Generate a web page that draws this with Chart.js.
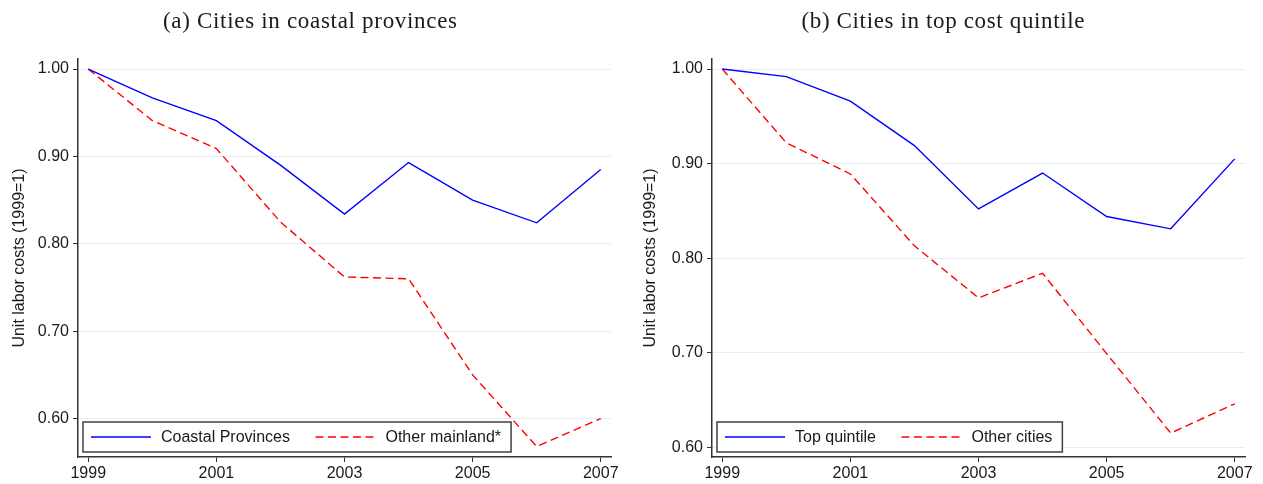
<!DOCTYPE html>
<html><head><meta charset="utf-8">
<script src="https://cdn.jsdelivr.net/npm/chart.js@4"></script>
<style>
html,body{margin:0;padding:0;background:#fff;overflow:hidden}
#wrap{position:relative;width:1263px;height:484px;background:#fff}
canvas{position:absolute;top:0}
</style></head><body>
<div id="wrap">
<canvas id="c1" width="631" height="484" style="left:0"></canvas>
<canvas id="c2" width="632" height="484" style="left:631px"></canvas>
</div>
<script>
// ---- data ----
const years = [1999, 2000, 2001, 2002, 2003, 2004, 2005, 2006, 2007];
const xTickYears = [1999, 2001, 2003, 2005, 2007];
const yTickValues = [0.6, 0.7, 0.8, 0.9, 1.0];

const coastalProvinces = [1.000, 0.967, 0.941, 0.890, 0.834, 0.893, 0.850, 0.824, 0.885];
const otherMainland   = [1.000, 0.941, 0.909, 0.825, 0.762, 0.760, 0.650, 0.568, 0.600];
const topQuintile     = [1.000, 0.992, 0.966, 0.919, 0.852, 0.890, 0.844, 0.831, 0.905];
const otherCities     = [1.000, 0.922, 0.889, 0.813, 0.758, 0.784, 0.699, 0.615, 0.646];

const titleA = "(a) Cities in coastal provinces";
const titleB = "(b) Cities in top cost quintile";
const yAxisTitle = "Unit labor costs (1999=1)";
const labelsA = ["Coastal Provinces", "Other mainland*"];
const labelsB = ["Top quintile", "Other cities"];

const SANS = "'Liberation Sans', Arial, Helvetica, sans-serif";
const SERIF = "'Liberation Serif', 'Times New Roman', serif";

function pts(vals) { return years.map((y, i) => ({ x: y, y: vals[i] })); }

// custom title + inside legend plugin
const decor = {
  id: 'decor',
  afterDatasetsDraw(chart, args, opts) {
    const ctx = chart.ctx;
    const ca = chart.chartArea;
    const ds = chart.data.datasets;
    ctx.save();
    ctx.font = "16px " + SANS;
    const h = 30;
    const bx = ca.left + 5, by = ca.bottom - 5 - h;
    const padL = 8, sample = 60, gapT = 10, gapE = 25.5, padR = 10;
    const tw = ds.map(d => ctx.measureText(d.label).width);
    const w = padL + sample + gapT + tw[0] + gapE + sample + gapT + tw[1] + padR;
    ctx.fillStyle = '#fff';
    ctx.fillRect(bx, by, w, h);
    ctx.strokeStyle = '#404040';
    ctx.lineWidth = 1.5;
    ctx.strokeRect(bx, by, w, h);
    let x = bx + padL;
    const cy = by + h / 2;
    ds.forEach((d, i) => {
      ctx.beginPath();
      ctx.strokeStyle = d.borderColor;
      ctx.lineWidth = d.borderWidth;
      ctx.setLineDash(d.borderDash || []);
      ctx.moveTo(x, cy); ctx.lineTo(x + sample, cy);
      ctx.stroke();
      ctx.setLineDash([]);
      x += sample + gapT;
      ctx.fillStyle = '#1a1a1a';
      ctx.textBaseline = 'middle';
      ctx.textAlign = 'left';
      ctx.fillText(d.label, x, cy + 1);
      x += tw[i] + gapE;
    });
    // title
    ctx.font = "23px " + SERIF;
    const t = opts.title;
    const w0 = ctx.measureText(t).width;
    const sp = Math.max(0, (opts.titleWidth - w0) / (t.length - 1));
    ctx.letterSpacing = sp.toFixed(2) + 'px';
    const w1 = ctx.measureText(t).width;
    ctx.fillStyle = '#1a1a1a';
    ctx.textAlign = 'left';
    ctx.textBaseline = 'middle';
    ctx.fillText(t, opts.titleCenter - (w1 - sp) / 2, 22);
    ctx.restore();
  }
};

function makeChart(id, series, labels, title, yMin, yMax, yWidth, padRight, titleCenter, titleWidth) {
  return new Chart(document.getElementById(id), {
    type: 'line',
    data: {
      datasets: [
        { label: labels[0], data: pts(series[0]), borderColor: '#0000ff', borderWidth: 1.4,
          pointRadius: 0, tension: 0, fill: false },
        { label: labels[1], data: pts(series[1]), borderColor: '#ff0000', borderWidth: 1.4,
          borderDash: [8, 4.5], pointRadius: 0, tension: 0, fill: false }
      ]
    },
    plugins: [decor],
    options: {
      responsive: false,
      animation: false,
      devicePixelRatio: 1,
      layout: { padding: { left: 0, right: padRight, top: 59, bottom: 0 } },
      plugins: {
        legend: { display: false },
        title: { display: false },
        tooltip: { enabled: false },
        decor: { title: title, titleCenter: titleCenter, titleWidth: titleWidth }
      },
      scales: {
        x: {
          type: 'linear', min: 1998.84, max: 2007.16,
          afterBuildTicks: s => { s.ticks = xTickYears.map(v => ({ value: v })); },
          afterFit: s => { s.height = 27; },
          ticks: { callback: v => String(v), color: '#1a1a1a', padding: 2,
                   font: { family: SANS, size: 16 }, maxRotation: 0, autoSkip: false },
          grid: { drawOnChartArea: false, drawTicks: true, tickLength: 5, tickColor: '#333', tickWidth: 1 },
          border: { display: true, color: '#333', width: 1.5 }
        },
        y: {
          type: 'linear', min: yMin, max: yMax,
          afterBuildTicks: s => { s.ticks = yTickValues.map(v => ({ value: v })); },
          afterFit: s => { s.width = yWidth; },
          ticks: { callback: v => Number(v).toFixed(2), color: '#1a1a1a', padding: 4,
                   font: { family: SANS, size: 16 }, autoSkip: false },
          grid: { color: '#e6eef0', lineWidth: 1, drawTicks: true, tickLength: 5, tickColor: '#333', tickWidth: 1 },
          border: { display: true, color: '#333', width: 1.5 },
          title: { display: true, text: yAxisTitle, color: '#1a1a1a',
                   font: { family: SANS, size: 16 }, padding: { top: 10, bottom: 0 } }
        }
      }
    }
  });
}

makeChart('c1', [coastalProvinces, otherMainland], labelsA, titleA, 0.556, 1.0115, 78, 20, 310, 294);
makeChart('c2', [topQuintile, otherCities], labelsB, titleB, 0.5897, 1.0106, 81, 18, 312, 283);
</script>
</body></html>
